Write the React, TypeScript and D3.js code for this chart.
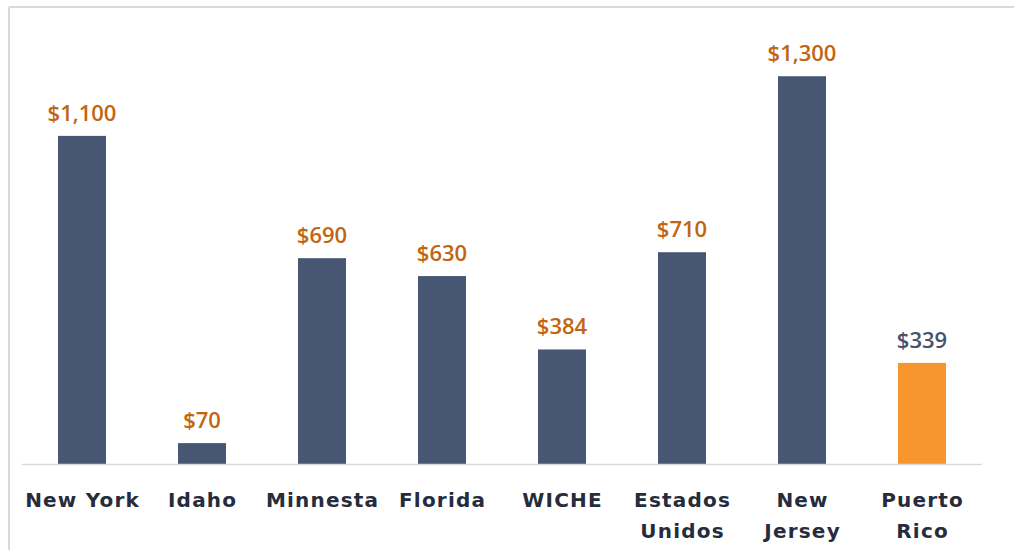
import React from "react";
import * as d3 from "d3";

const categories: string[][] = [
  ["New York"],
  ["Idaho"],
  ["Minnesta"],
  ["Florida"],
  ["WICHE"],
  ["Estados", "Unidos"],
  ["New", "Jersey"],
  ["Puerto", "Rico"],
];
const values: number[] = [1100, 70, 690, 630, 384, 710, 1300, 339];
const labels: string[] = ["$1,100", "$70", "$690", "$630", "$384", "$710", "$1,300", "$339"];
const highlight: boolean[] = [false, false, false, false, false, false, false, true];

const W = 1014;
const H = 550;

export default function App() {
  const x = d3
    .scaleBand<number>()
    .domain(d3.range(values.length))
    .range([22, 982])
    .paddingInner(0.6)
    .paddingOuter(0.3);
  const y = d3.scaleLinear().domain([0, 1400]).range([464, 46.4]);

  return (
    <svg
      width={W}
      height={H}
      style={{ position: "absolute", left: 0, top: 0, background: "#fff" }}
    >
      <rect x={0} y={0} width={W} height={H} fill="#fff" />
      <line x1={9} x2={W} y1={7} y2={7} stroke="#d9d9d9" strokeWidth={2} />
      <line x1={9} x2={9} y1={7} y2={H} stroke="#d9d9d9" strokeWidth={2} />
      {values.map((v, i) => (
        <rect
          key={"b" + i}
          x={x(i)!}
          y={y(v)}
          width={x.bandwidth()}
          height={y(0) - y(v)}
          fill={highlight[i] ? "#F7962F" : "#475673"}
        />
      ))}
      <line x1={22} x2={982} y1={464.5} y2={464.5} stroke="#d9d9d9" strokeWidth={1.5} />
      {values.map((v, i) => (
        <text
          key={"v" + i}
          x={x(i)! + x.bandwidth() / 2}
          y={y(v) - 15}
          textAnchor="middle"
          fontFamily="'Open Sans', sans-serif"
          fontWeight={600}
          fontSize={22}
          fill={highlight[i] ? "#44546A" : "#C26510"}
        >
          {labels[i]}
        </text>
      ))}
      {categories.map((lines, i) => (
        <text
          key={"c" + i}
          x={x(i)! + x.bandwidth() / 2}
          textAnchor="middle"
          fontFamily="'DejaVu Sans', sans-serif"
          fontWeight={700}
          fontSize={20}
          letterSpacing={1.2}
          fill="#262C3C"
        >
          {lines.map((l, j) => (
            <tspan key={j} x={x(i)! + x.bandwidth() / 2 + 0.6} y={507 + j * 31}>
              {l}
            </tspan>
          ))}
        </text>
      ))}
    </svg>
  );
}
